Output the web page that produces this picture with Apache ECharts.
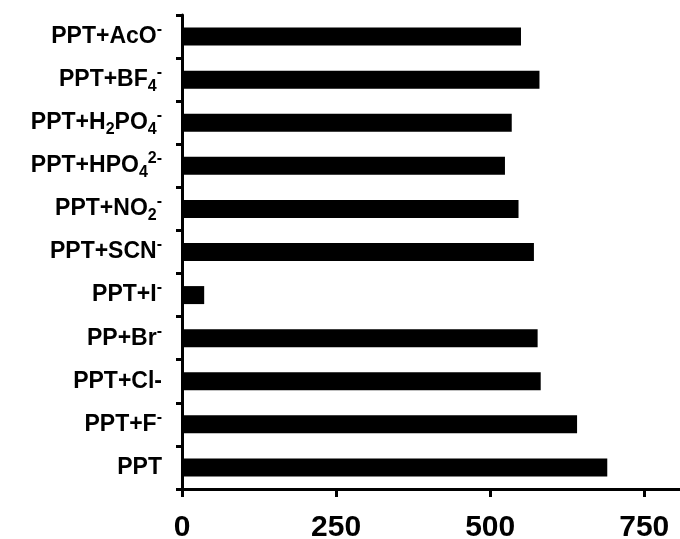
<!DOCTYPE html>
<html>
<head>
<meta charset="utf-8">
<script src="https://cdn.jsdelivr.net/npm/echarts@6/dist/echarts.min.js"></script>
<style>
  html, body { margin: 0; padding: 0; background: #fff; }
  #chart { width: 680px; height: 539px; }
</style>
</head>
<body>
<div id="chart"></div>
<script>
// top to bottom, rich text markup for sub/superscripts
const categories = [
    'PPT+AcO{sup|-}',
    'PPT+BF{sub|4}{sup|-}',
    'PPT+H{sub|2}PO{sub|4}{sup|-}',
    'PPT+HPO{sub|4}{sup|2-}',
    'PPT+NO{sub|2}{sup|-}',
    'PPT+SCN{sup|-}',
    'PPT+I{sup|-}',
    'PP+Br{sup|-}',
    'PPT+Cl-',
    'PPT+F{sup|-}',
    'PPT'
];
const values = [550, 580, 535, 524, 546, 571, 36, 577, 582, 641, 690];
const xTicks = [0, 250, 500, 750];

let myChart = echarts.init(document.getElementById('chart'));

const font = 'Liberation Sans, Arial, sans-serif';

let option = {
    animation: false,
    grid: {
        left: 182,
        top: 15,
        right: 0,
        bottom: 50,
        outerBoundsMode: 'none'
    },
    xAxis: {
        type: 'value',
        min: 0,
        max: 808,
        splitLine: { show: false },
        axisLine: { show: true, lineStyle: { color: '#000', width: 3 } },
        axisTick: {
            show: true,
            length: 8,
            customValues: xTicks,
            lineStyle: { color: '#000', width: 3 }
        },
        axisLabel: {
            customValues: xTicks,
            margin: 24,
            color: '#000',
            fontSize: 30,
            fontWeight: 'bold',
            fontFamily: font
        }
    },
    yAxis: {
        type: 'category',
        inverse: true,
        data: categories,
        axisLine: { show: true, lineStyle: { color: '#000', width: 3 } },
        axisTick: { show: true, length: 6, lineStyle: { color: '#000', width: 3 } },
        axisLabel: {
            margin: 20,
            color: '#000',
            fontSize: 23,
            fontWeight: 'bold',
            fontFamily: font,
            lineHeight: 30,
            rich: {
                sub: {
                    fontSize: 16,
                    fontWeight: 'bold',
                    fontFamily: font,
                    color: '#000',
                    verticalAlign: 'bottom',
                    lineHeight: 30,
                    padding: [10, 0, 0, 0]
                },
                sup: {
                    fontSize: 16,
                    fontWeight: 'bold',
                    fontFamily: font,
                    color: '#000',
                    verticalAlign: 'top',
                    lineHeight: 30,
                    padding: [0, 0, 12, 0]
                }
            }
        }
    },
    series: [
        {
            type: 'bar',
            data: values,
            barWidth: 18,
            itemStyle: { color: '#000' }
        }
    ]
};

option && myChart.setOption(option);
</script>
</body>
</html>
